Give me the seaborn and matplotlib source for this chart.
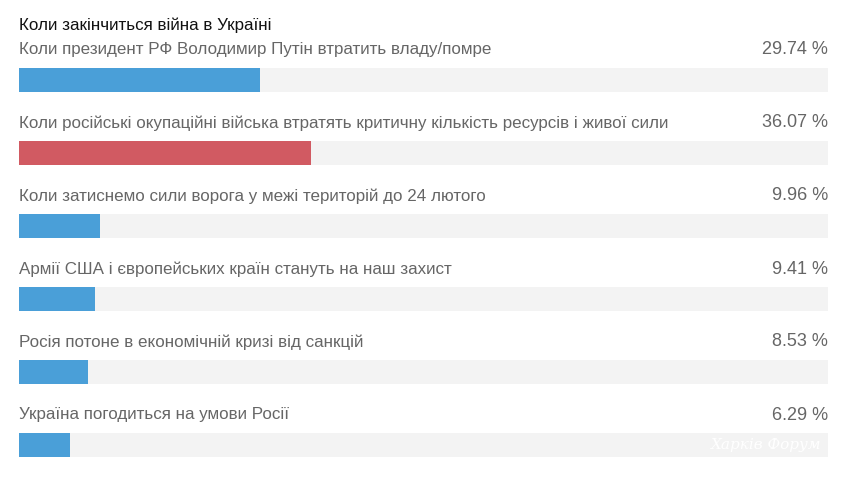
import matplotlib
matplotlib.use("Agg")
import matplotlib.pyplot as plt
import seaborn as sns
import pandas as pd

title = "Коли закінчиться війна в Україні"
categories = [
    "Коли президент РФ Володимир Путін втратить владу/помре",
    "Коли російські окупаційні війська втратять критичну кількість ресурсів і живої сили",
    "Коли затиснемо сили ворога у межі територій до 24 лютого",
    "Армії США і європейських країн стануть на наш захист",
    "Росія потоне в економічній кризі від санкцій",
    "Україна погодиться на умови Росії",
]
values = [29.74, 36.07, 9.96, 9.41, 8.53, 6.29]
bar_colors = ["#4a9fd8", "#d15a62", "#4a9fd8", "#4a9fd8", "#4a9fd8", "#4a9fd8"]
track_color = "#f3f3f3"
watermark = "Харків Форум"

sns.set_theme(style="white")
plt.rcParams["font.family"] = ["Liberation Sans", "DejaVu Sans"]

W, H = 845, 486
fig = plt.figure(figsize=(W / 100, H / 100), dpi=100)
left_px, right_px = 19, 828
ax = fig.add_axes([left_px / W, 0, (right_px - left_px) / W, 1])

df = pd.DataFrame({"cat": categories, "val": values, "track": [100] * len(values)})
bw = 24 / 73
sns.barplot(data=df, x="track", y="cat", color=track_color, width=bw, ax=ax,
            saturation=1, orient="h", linewidth=0)
sns.barplot(data=df, x="val", y="cat", hue="cat", palette=bar_colors, width=bw,
            ax=ax, saturation=1, legend=False, orient="h", linewidth=0)

ax.set_xlim(0, 100)
ax.set_ylim((H - 80) / 73, -80 / 73)
ax.axis("off")

for i, (c, v) in enumerate(zip(categories, values)):
    ax.text(0, i - 30 / 73, c, ha="left", va="center", fontsize=12.25, color="#666666")
    ax.text(100, i - 30 / 73, f"{v:.2f} %", ha="right", va="center", fontsize=13,
            color="#666666")

ax.text(0, -80 / 73 + 25 / 73, title, ha="left", va="center", fontsize=12.25, color="#111111")
ax.text(99.2, len(values) - 1, watermark, ha="right", va="center", fontsize=11,
        color="white", family="DejaVu Serif", style="italic")

fig.savefig("out.png", dpi=100)
